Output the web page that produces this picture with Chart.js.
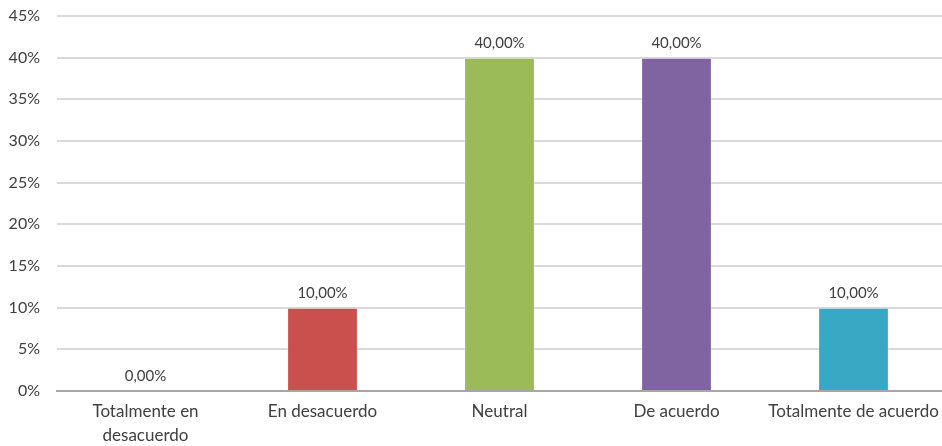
<!DOCTYPE html>
<html>
<head>
<meta charset="utf-8">
<script src="https://cdn.jsdelivr.net/npm/chart.js@4/dist/chart.umd.min.js"></script>
<style>
  html, body { margin: 0; padding: 0; background: #fff; }
  #wrap { width: 942px; height: 446px; position: relative; }
</style>
</head>
<body>
<div id="wrap"><canvas id="c"></canvas></div>
<script>
// Survey answers (share of respondents, %)
const categories = [
  ["Totalmente en", "desacuerdo"],
  "En desacuerdo",
  "Neutral",
  "De acuerdo",
  "Totalmente de acuerdo"
];
const percentages = [0, 10, 40, 40, 10];
const barColors = ["#C0504D", "#C9504C", "#9BBB59", "#8064A2", "#38A9C5"];
const yTicks = [0, 5, 10, 15, 20, 25, 30, 35, 40, 45];

const fontFamily = "Lato, 'Open Sans', 'Liberation Sans', sans-serif";
const textColor = "#404040";

// Writes each bar's value above it, Spanish decimal comma
const valueLabels = {
  id: "valueLabels",
  afterDatasetsDraw(chart) {
    const ctx = chart.ctx;
    const meta = chart.getDatasetMeta(0);
    ctx.save();
    ctx.font = "15px " + fontFamily;
    ctx.fillStyle = textColor;
    ctx.textAlign = "center";
    ctx.textBaseline = "bottom";
    meta.data.forEach((bar, i) => {
      const v = percentages[i];
      ctx.fillText(v.toFixed(2).replace(".", ",") + "%", bar.x, bar.y - 7);
    });
    ctx.restore();
  }
};

new Chart(document.getElementById("c"), {
  type: "bar",
  data: {
    labels: categories,
    datasets: [{
      data: percentages,
      backgroundColor: barColors,
      borderColor: "rgba(255,255,255,0.35)",
      borderWidth: 1,
      barPercentage: 0.4,
      categoryPercentage: 1.0
    }]
  },
  options: {
    responsive: true,
    maintainAspectRatio: false,
    animation: false,
    layout: { padding: { top: 16, right: 0, left: 0, bottom: 0 } },
    plugins: {
      legend: { display: false },
      tooltip: { enabled: false }
    },
    scales: {
      x: {
        afterFit(scale) {
          scale.height = 55;
          scale.paddingLeft = 0;
          scale.paddingRight = 0;
        },
        grid: { display: false, drawTicks: false },
        border: { display: true, color: "#A6A6A6", width: 2 },
        ticks: {
          color: textColor,
          font: { family: fontFamily, size: 17, lineHeight: 1.4 },
          padding: 9,
          maxRotation: 0,
          autoSkip: false
        }
      },
      y: {
        min: 0,
        max: 45,
        afterFit(scale) {
          scale.width = 57;
          scale.paddingTop = 0;
          scale.paddingBottom = 0;
        },
        afterBuildTicks(scale) { scale.ticks = yTicks.map(v => ({ value: v })); },
        grid: { color: "#D9D9D9", lineWidth: 2, drawTicks: false },
        border: { display: false },
        ticks: {
          color: textColor,
          font: { family: fontFamily, size: 16 },
          padding: 17,
          callback: v => v + "%"
        }
      }
    }
  },
  plugins: [valueLabels]
});
</script>
</body>
</html>
